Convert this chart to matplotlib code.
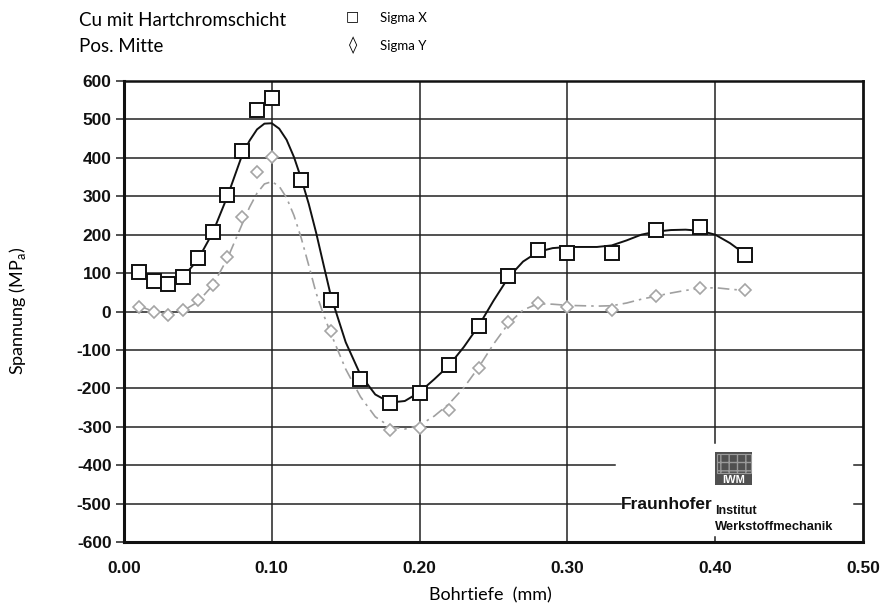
import numpy as np
import matplotlib
matplotlib.use("Agg")
import matplotlib.pyplot as plt
from matplotlib.patches import Rectangle

plt.rcParams["axes.unicode_minus"] = False

# ---------------- data ----------------
depth_x = [0.01, 0.02, 0.03, 0.04, 0.05, 0.06, 0.07, 0.08, 0.09, 0.10, 0.12, 0.14,
           0.16, 0.18, 0.20, 0.22, 0.24, 0.26, 0.28, 0.30, 0.33, 0.36, 0.39, 0.42]
sigma_x = [103, 80, 72, 90, 140, 207, 302, 418, 525, 557, 343, 30,
           -175, -237, -212, -140, -37, 92, 160, 153, 153, 213, 220, 147]

depth_y = [0.01, 0.02, 0.03, 0.04, 0.05, 0.06, 0.07, 0.08, 0.09, 0.10, 0.14,
           0.18, 0.20, 0.22, 0.24, 0.26, 0.28, 0.30, 0.33, 0.36, 0.39, 0.42]
sigma_y = [12, 0, -9, 4, 30, 69, 143, 247, 364, 403, -52,
           -309, -303, -256, -147, -27, 23, 12, 4, 40, 60, 55]

# smoothed fit curves
fit_depth = [0.01, 0.02, 0.03, 0.04, 0.05, 0.06, 0.07, 0.08, 0.085, 0.09, 0.095, 0.10,
             0.105, 0.11, 0.115, 0.12, 0.125, 0.13, 0.135, 0.14, 0.15, 0.16, 0.17,
             0.18, 0.19, 0.20, 0.21, 0.22, 0.23, 0.24, 0.25, 0.26, 0.27, 0.28, 0.29,
             0.30, 0.31, 0.32, 0.33, 0.34, 0.35, 0.36, 0.37, 0.38, 0.39, 0.40, 0.41, 0.42]
fit_x = [97, 85, 78, 90, 135, 205, 300, 408, 445, 474, 489, 490,
         476, 447, 402, 345, 280, 205, 122, 40, -80, -165, -216,
         -237, -233, -210, -176, -140, -92, -37, 28, 88, 130, 155, 165,
         168, 168, 168, 172, 185, 200, 208, 212, 213, 210, 200, 178, 150]
fit_y = [15, 0, -8, 2, 25, 68, 138, 228, 272, 308, 332, 338,
         326, 296, 250, 190, 120, 48, -8, -58, -150, -222, -274,
         -300, -306, -296, -272, -240, -198, -145, -85, -32, 4, 20, 19,
         16, 15, 14, 15, 22, 32, 40, 48, 55, 60, 62, 58, 55]

x_ticks = [0.00, 0.10, 0.20, 0.30, 0.40, 0.50]
x_tick_labels = ["0.00", "0.10", "0.20", "0.30", "0.40", "0.50"]
y_ticks = [600, 500, 400, 300, 200, 100, 0, -100, -200, -300, -400, -500, -600]

# ---------------- figure ----------------
fig = plt.figure(figsize=(8.82, 6.10), dpi=100)
ax = fig.add_axes([124/882, 1 - 542/610, (863-124)/882, (542-81)/610])
ax.set_xlim(0, 0.5)
ax.set_ylim(-600, 600)

grid_c = "#222222"
for v in y_ticks[1:-1]:
    if v in (-400, -500):
        xmax = 0.332 if v == -400 else 0.336
        ax.plot([0, xmax], [v, v], color=grid_c, lw=1.1, zorder=1)
        ax.plot([0.494, 0.5], [v, v], color=grid_c, lw=1.1, zorder=1)
    else:
        ax.axhline(v, color=grid_c, lw=1.1, zorder=1)
for v in x_ticks[1:-1]:
    if v == 0.40:
        ax.plot([v, v], [-342, 600], color=grid_c, lw=1.1, zorder=1)
        ax.plot([v, v], [-600, -588], color=grid_c, lw=1.1, zorder=1)
    else:
        ax.axvline(v, color=grid_c, lw=1.1, zorder=1)

ax.plot(fit_depth, fit_y, color="#a0a0a0", lw=1.2, ls=(0, (7, 3, 1.5, 3)), zorder=2)
ax.plot(fit_depth, fit_x, color="#111111", lw=1.4, zorder=3)
ax.plot(depth_y, sigma_y, ls="none", marker="D", ms=6.6, mfc="white", mec="#a5a5a5",
        mew=1.2, zorder=4)
ax.plot(depth_x, sigma_x, ls="none", marker="s", ms=9.5, mfc="white", mec="#111111",
        mew=1.4, zorder=5)

ax.set_xticks(x_ticks)
ax.set_xticklabels(x_tick_labels)
ax.set_yticks(y_ticks)
ax.tick_params(axis="x", length=0, pad=14)
ax.tick_params(axis="y", length=6, width=1.1, direction="out", pad=3, color=grid_c)
for lab in ax.get_xticklabels() + ax.get_yticklabels():
    lab.set_fontfamily("Liberation Sans")
    lab.set_fontweight("bold")
    lab.set_fontsize(12.5)
    lab.set_color("#111111")

for side, w in (("left", 2.2), ("bottom", 2.2), ("top", 1.8), ("right", 2.0)):
    ax.spines[side].set_linewidth(w)
    ax.spines[side].set_color("#111111")

# logo block
ax.add_patch(Rectangle((0.4, -452), 0.025, 86, transform=ax.transData,
                       facecolor="#505050", edgecolor="none", zorder=2))
ax.add_patch(Rectangle((0.401, -420), 0.023, 50, transform=ax.transData,
                       facecolor="none", edgecolor="#9a9a9a", lw=0.8, hatch="++", zorder=3))
ax.text(0.4125, -439, "IWM", ha="center", va="center", color="white",
        fontsize=8, fontweight="bold", family="Liberation Sans", zorder=4)
ax.text(0.336, -502, "Fraunhofer", ha="left", va="center", fontsize=12.5,
        fontweight="bold", family="Liberation Sans", color="#111111")
ax.text(0.4, -519, "Institut", ha="left", va="center", fontsize=9,
        fontweight="bold", family="Liberation Sans", color="#111111")
ax.text(0.4, -561, "Werkstoffmechanik", ha="left", va="center", fontsize=9.3,
        fontweight="bold", family="Liberation Sans", color="#111111")

# labels
fig.text(490/882, 1 - 595/610, "Bohrtiefe  (mm)", ha="center", va="center",
         fontsize=13, family="Lato")
fig.text(18/882, 1 - 311/610, "Spannung (MP$_\\mathregular{a}$)", ha="center", va="center",
         rotation=90, fontsize=13, family="Lato")

# header
fig.text(79/882, 1 - 20/610, "Cu mit Hartchromschicht", ha="left", va="center",
         fontsize=13.5, family="Lato")
fig.text(79/882, 1 - 47/610, "Pos. Mitte", ha="left", va="center",
         fontsize=13.5, family="Lato")
fig.text(352/882, 1 - 16/610, "□", ha="center", va="center", fontsize=10,
         fontweight="bold", family="DejaVu Sans")
fig.text(353/882, 1 - 45/610, "◊", ha="center", va="center", fontsize=12,
         fontweight="bold", family="DejaVu Sans")
fig.text(380/882, 1 - 18/610, "Sigma X", ha="left", va="center", fontsize=9.5,
         family="Lato")
fig.text(380/882, 1 - 46/610, "Sigma Y", ha="left", va="center", fontsize=9.5,
         family="Lato")

fig.savefig("out.png", dpi=100)
